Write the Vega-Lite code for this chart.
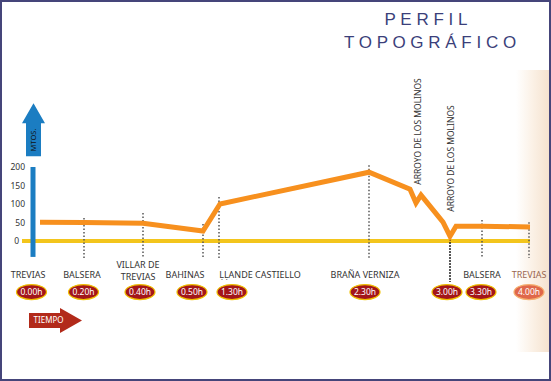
{
  "$schema": "https://vega.github.io/schema/vega-lite/v6.json",
  "width": 551,
  "height": 381,
  "autosize": {"type": "fit", "contains": "padding"},
  "padding": 0,
  "background": "#ffffff",
  "config": {"view": {"stroke": "#45457a", "strokeWidth": 4}},
  "datasets": {
    "shade": [{"x": 516, "x2": 549, "y": 462, "y2": -300}],
    "base": [{"x": 22, "x2": 530, "y": 0}],
    "bar": [{"x": 33, "y": 200, "y2": -43}],
    "marks": [
      {"x": 84, "y": 62, "y2": -46},
      {"x": 143, "y": 76, "y2": -46},
      {"x": 203, "y": 46, "y2": -46},
      {"x": 219, "y": 119, "y2": -46},
      {"x": 369, "y": 205, "y2": -46},
      {"x": 482, "y": 57, "y2": -46},
      {"x": 529, "y": 51, "y2": -46}
    ],
    "mark2": [{"x": 450, "y": 13, "y2": -111}],
    "profile": [
      {"x": 40, "y": 51},
      {"x": 84, "y": 50},
      {"x": 143, "y": 48},
      {"x": 203, "y": 27},
      {"x": 220, "y": 100},
      {"x": 369, "y": 186},
      {"x": 410, "y": 140},
      {"x": 416, "y": 103},
      {"x": 421, "y": 124},
      {"x": 443, "y": 51},
      {"x": 450, "y": 13},
      {"x": 456, "y": 40},
      {"x": 482, "y": 40},
      {"x": 530, "y": 38}
    ],
    "arrow": [{"x": 33.5, "y": 301}],
    "mtos": [{"x": 33.5, "y": 273, "t": "MTOS."}],
    "ticks": [
      {"x": 25, "y": 200, "t": "200"},
      {"x": 25, "y": 150, "t": "150"},
      {"x": 25, "y": 100, "t": "100"},
      {"x": 25, "y": 50, "t": "50"},
      {"x": 19, "y": 0, "t": "0"}
    ],
    "labels": [
      {"t": "TREVIAS", "x": 28, "y": -92},
      {"t": "BALSERA", "x": 82, "y": -92},
      {"t": "BAHINAS", "x": 185, "y": -92},
      {"t": "ḶḶANDE CASTIELLO", "x": 260, "y": -92},
      {"t": "BRAÑA VERNIZA", "x": 365, "y": -92},
      {"t": "BALSERA", "x": 482, "y": -92}
    ],
    "villar": [{"t": ["VILLAR DE", "TREVIAS"], "x": 138, "y": -66.2}],
    "labelEnd": [{"t": "TREVIAS", "x": 529, "y": -92}],
    "times": [
      {"t": "0.00h", "x": 31.5, "y": -138},
      {"t": "0.20h", "x": 83.5, "y": -138},
      {"t": "0.40h", "x": 140, "y": -138},
      {"t": "0.50h", "x": 192, "y": -138},
      {"t": "1.30h", "x": 232, "y": -138},
      {"t": "2.30h", "x": 365, "y": -138},
      {"t": "3.00h", "x": 447, "y": -138},
      {"t": "3.30h", "x": 481, "y": -138}
    ],
    "timeEnd": [{"t": "4.00h", "x": 529, "y": -138}],
    "tiempo": [{"x": 55.5, "y": -215, "t": "TIEMPO"}],
    "arroyo": [
      {"x": 418, "y": 296, "t": "ARROYO DE LOS MOLINOS"},
      {"x": 451, "y": 223, "t": "ARROYO  DE LOS MOLINOS"}
    ],
    "title": [
      {"x": 426, "y": 596, "t": "P E R F I L"},
      {"x": 430, "y": 535, "t": "T O P O G R Á F I C O"}
    ]
  },
  "encoding": {
    "x": {"field": "x", "type": "quantitative", "scale": {"domain": [0, 551], "nice": false, "zero": false}, "axis": null},
    "y": {"field": "y", "type": "quantitative", "scale": {"domain": [-378.4, 651.4], "nice": false, "zero": false}, "axis": null}
  },
  "layer": [
    {
      "data": {"name": "shade"},
      "mark": {"type": "rect", "fill": {"gradient": "linear", "x1": 0, "x2": 1, "y1": 0, "y2": 0, "stops": [{"offset": 0, "color": "#ffffff"}, {"offset": 0.5, "color": "#fbf1e6"}, {"offset": 1, "color": "#f5e2cf"}]}},
      "encoding": {"x2": {"field": "x2"}, "y2": {"field": "y2"}}
    },
    {
      "data": {"name": "base"},
      "mark": {"type": "rule", "color": "#f3c51c", "strokeWidth": 4},
      "encoding": {"x2": {"field": "x2"}}
    },
    {
      "data": {"name": "bar"},
      "mark": {"type": "rule", "color": "#1b7dc2", "strokeWidth": 5},
      "encoding": {"y2": {"field": "y2"}}
    },
    {
      "data": {"name": "marks"},
      "mark": {"type": "rule", "color": "#555555", "strokeWidth": 1.5, "strokeDash": [1.5, 2]},
      "encoding": {"y2": {"field": "y2"}}
    },
    {
      "data": {"name": "mark2"},
      "mark": {"type": "rule", "color": "#222222", "strokeWidth": 2, "strokeDash": [1.5, 1.5]},
      "encoding": {"y2": {"field": "y2"}}
    },
    {
      "data": {"name": "profile"},
      "mark": {"type": "line", "color": "#f7901e", "strokeWidth": 5, "strokeJoin": "miter"}
    },
    {
      "data": {"name": "arrow"},
      "mark": {"type": "point", "filled": true, "opacity": 1, "color": "#1b7dc2", "size": 2809, "shape": "M-0.283,1 L-0.283,-0.245 L-0.434,-0.245 L0,-1 L0.434,-0.245 L0.283,-0.245 L0.283,1 Z"}
    },
    {
      "data": {"name": "mtos"},
      "mark": {"type": "text", "angle": 270, "font": "Noto Sans", "fontSize": 7.5, "color": "#111111", "baseline": "middle", "align": "center"},
      "encoding": {"text": {"field": "t"}}
    },
    {
      "data": {"name": "ticks"},
      "mark": {"type": "text", "font": "Noto Sans", "fontSize": 8.5, "color": "#333333", "baseline": "middle", "align": "right"},
      "encoding": {"text": {"field": "t"}}
    },
    {
      "data": {"name": "labels"},
      "mark": {"type": "text", "font": "Noto Sans", "fontSize": 9, "color": "#333333", "baseline": "middle", "align": "center"},
      "encoding": {"text": {"field": "t"}}
    },
    {
      "data": {"name": "villar"},
      "mark": {"type": "text", "font": "Noto Sans", "fontSize": 9, "color": "#333333", "baseline": "middle", "align": "center", "lineHeight": 11.5},
      "encoding": {"text": {"field": "t"}}
    },
    {
      "data": {"name": "labelEnd"},
      "mark": {"type": "text", "font": "Noto Sans", "fontSize": 9, "color": "#9a6650", "baseline": "middle", "align": "center"},
      "encoding": {"text": {"field": "t"}}
    },
    {
      "data": {"name": "times"},
      "mark": {"type": "point", "filled": true, "opacity": 1, "color": "#a3161a", "stroke": "#f0c000", "strokeWidth": 1.2, "size": 900, "shape": "M-1,0 A1,0.5 0 1,0 1,0 A1,0.5 0 1,0 -1,0 Z"}
    },
    {
      "data": {"name": "timeEnd"},
      "mark": {"type": "point", "filled": true, "opacity": 1, "color": "#e0674a", "stroke": "#f5b070", "strokeWidth": 1.2, "size": 900, "shape": "M-1,0 A1,0.5 0 1,0 1,0 A1,0.5 0 1,0 -1,0 Z"}
    },
    {
      "data": {"name": "times"},
      "mark": {"type": "text", "font": "Noto Sans", "fontSize": 8.5, "color": "#ffffff", "baseline": "middle", "align": "center"},
      "encoding": {"text": {"field": "t"}}
    },
    {
      "data": {"name": "timeEnd"},
      "mark": {"type": "text", "font": "Noto Sans", "fontSize": 8.5, "color": "#ffffff", "baseline": "middle", "align": "center"},
      "encoding": {"text": {"field": "t"}}
    },
    {
      "data": {"name": "tiempo"},
      "mark": {"type": "point", "filled": true, "opacity": 1, "color": "#b22a1a", "size": 2809, "shape": "M-1,-0.283 L0.17,-0.283 L0.17,-0.47 L1,0 L0.17,0.47 L0.17,0.283 L-1,0.283 Z"}
    },
    {
      "data": {"name": "tiempo"},
      "mark": {"type": "text", "font": "Noto Sans", "fontSize": 8, "color": "#ffffff", "baseline": "middle", "align": "center", "dx": -7},
      "encoding": {"text": {"field": "t"}}
    },
    {
      "data": {"name": "arroyo"},
      "mark": {"type": "text", "angle": 270, "font": "Noto Sans", "fontSize": 8.5, "color": "#333333", "baseline": "middle", "align": "center"},
      "encoding": {"text": {"field": "t"}}
    },
    {
      "data": {"name": "title"},
      "mark": {"type": "text", "font": "Liberation Sans", "fontSize": 17, "color": "#3b3f7a", "baseline": "middle", "align": "center"},
      "encoding": {"text": {"field": "t"}}
    }
  ]
}
